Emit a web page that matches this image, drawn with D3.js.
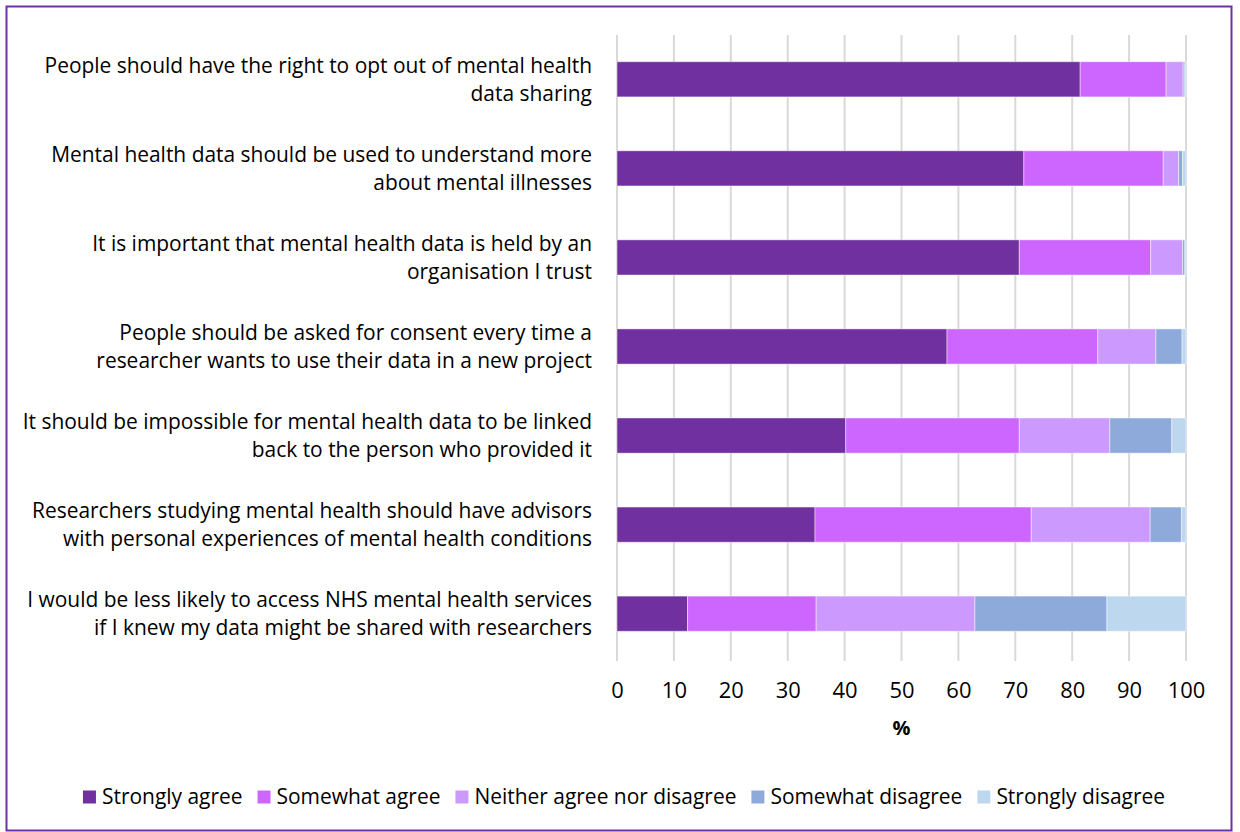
<!DOCTYPE html>
<html>
<head>
<meta charset="utf-8">
<script src="https://cdn.jsdelivr.net/npm/d3@7"></script>
<style>
  html, body { margin: 0; padding: 0; background: #fff; }
  svg { display: block; }
  text { font-family: "Open Sans", Lato, "Noto Sans", sans-serif; fill: #000; }
</style>
</head>
<body>
<svg id="chart" width="1240" height="832"></svg>
<script>
// Survey statements (top to bottom), each split into two display lines
const statements = [
  ["People should have the right to opt out of mental health", "data sharing"],
  ["Mental health data should be used to understand more", "about mental illnesses"],
  ["It is important that mental health data is held by an", "organisation I trust"],
  ["People should be asked for consent every time a", "researcher wants to use their data in a new project"],
  ["It should be impossible for mental health data to be linked", "back to the person who provided it"],
  ["Researchers studying mental health should have advisors", "with personal experiences of mental health conditions"],
  ["I would be less likely to access NHS mental health services", "if I knew my data might be shared with researchers"]
];

const responses = ["Strongly agree", "Somewhat agree", "Neither agree nor disagree", "Somewhat disagree", "Strongly disagree"];

// Percentage of respondents per statement, one array per response
const stronglyAgree    = [81.4, 71.5, 70.7, 58.0, 40.2, 34.8, 12.4];
const somewhatAgree    = [15.1, 24.5, 23.1, 26.5, 30.5, 38.0, 22.6];
const neither          = [ 3.0,  2.7,  5.6, 10.2, 15.9, 20.9, 27.9];
const somewhatDisagree = [ 0.3,  0.7,  0.4,  4.6, 10.9,  5.5, 23.2];
const stronglyDisagree = [ 0.2,  0.6,  0.2,  0.7,  2.5,  0.8, 13.9];

const xTicks = [0, 10, 20, 30, 40, 50, 60, 70, 80, 90, 100];

const colors = ["#7030A0", "#CC66FF", "#CC99FF", "#8EAADB", "#BDD7EE"];

const series = [stronglyAgree, somewhatAgree, neither, somewhatDisagree, stronglyDisagree];
const rows = statements.map((s, i) => {
  const r = { id: i };
  responses.forEach((k, j) => { r[k] = series[j][i]; });
  return r;
});

const svg = d3.select("#chart");

// Outer frame
svg.append("rect")
  .attr("x", 6.5).attr("y", 6.5)
  .attr("width", 1225).attr("height", 824)
  .attr("fill", "none").attr("stroke", "#7030A0").attr("stroke-width", 2);

const plot = { left: 617, right: 1186, top: 35, bottom: 658 };

const x = d3.scaleLinear().domain([0, 100]).range([plot.left, plot.right]);
const y = d3.scaleBand().domain(rows.map(d => d.id)).range([plot.top, plot.bottom]).paddingInner(0.605).paddingOuter(0.3);

// Gridlines
svg.append("g")
  .selectAll("line")
  .data(xTicks)
  .join("line")
  .attr("x1", d => x(d)).attr("x2", d => x(d))
  .attr("y1", plot.top).attr("y2", plot.bottom + 3)
  .attr("stroke", "#D9D9D9").attr("stroke-width", 2);

// Stacked bars
const stack = d3.stack().keys(responses)(rows);
svg.append("g")
  .selectAll("g")
  .data(stack)
  .join("g")
  .attr("fill", (d, i) => colors[i])
  .selectAll("rect")
  .data(d => d)
  .join("rect")
  .attr("x", d => x(d[0]))
  .attr("width", d => Math.max(0, x(d[1]) - x(d[0])))
  .attr("y", d => y(d.data.id))
  .attr("height", y.bandwidth())
  .attr("stroke", "#ffffff").attr("stroke-opacity", 0.45).attr("stroke-width", 1);

// Label font size fitted so the widest line spans the label column
const probe = svg.append("text").attr("font-size", 20).text(statements[0][0]);
const probeW = probe.node().getComputedTextLength();
probe.remove();
const labelSize = 20 * 548 / probeW;

// Category labels (right aligned, two lines)
const labels = svg.append("g").attr("font-size", labelSize).attr("text-anchor", "end");
statements.forEach((lines, i) => {
  const cy = y(i) + y.bandwidth() / 2;
  labels.append("text")
    .attr("x", 592)
    .attr("y", cy)
    .selectAll("tspan")
    .data(lines)
    .join("tspan")
    .attr("x", 592)
    .attr("y", (d, k) => cy + (k === 0 ? -14 : 14))
    .attr("dy", "0.35em")
    .text(d => d);
});

// X axis tick labels
const axis = d3.axisBottom(x).tickValues(xTicks).tickSize(0).tickPadding(0);
const ax = svg.append("g").attr("transform", `translate(0, ${plot.bottom})`).call(axis);
ax.select(".domain").remove();
ax.selectAll("text")
  .attr("font-size", labelSize + 1)
  .attr("font-family", null)
  .attr("y", 32)
  .attr("dy", "0.35em")
  .attr("fill", "#000");
ax.attr("font-family", null);

// Axis title
svg.append("text")
  .attr("x", x(50)).attr("y", 728).attr("dy", "0.35em")
  .attr("text-anchor", "middle")
  .attr("font-size", labelSize - 1)
  .attr("font-weight", "bold")
  .text("%");

// Legend
const legend = svg.append("g").attr("font-size", labelSize);
const items = [];
let cursor = 0;
responses.forEach((r, i) => {
  const g = legend.append("g");
  g.append("rect").attr("x", 0).attr("y", -6.5).attr("width", 13).attr("height", 13).attr("fill", colors[i]);
  const t = g.append("text").attr("x", 19).attr("y", 0).attr("dy", "0.35em").text(r);
  const w = 19 + t.node().getComputedTextLength();
  g.attr("transform", `translate(${cursor}, 797)`);
  items.push(g);
  cursor += w + 15;
});
const totalW = cursor - 15;
legend.attr("transform", `translate(${84 + (1164 - 84 - totalW) / 2}, 0)`);
</script>
</body>
</html>
